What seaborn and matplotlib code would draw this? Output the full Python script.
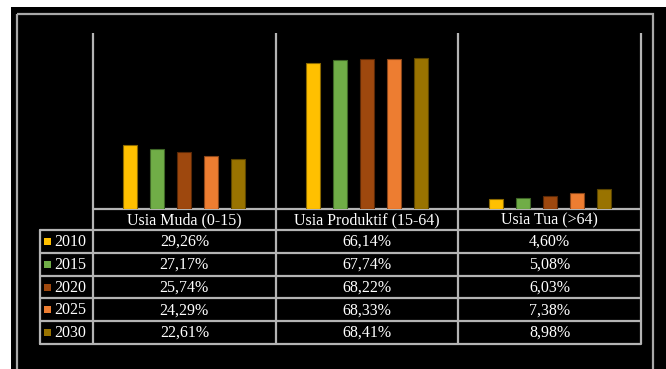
import matplotlib
matplotlib.use("Agg")
import matplotlib.pyplot as plt
import matplotlib.patches as mpatches
import seaborn as sns
import pandas as pd

categories = ["Usia Muda (0-15)", "Usia Produktif (15-64)", "Usia Tua (>64)"]
years = ["2010", "2015", "2020", "2025", "2030"]
v2010 = [29.26, 66.14, 4.60]
v2015 = [27.17, 67.74, 5.08]
v2020 = [25.74, 68.22, 6.03]
v2025 = [24.29, 68.33, 7.38]
v2030 = [22.61, 68.41, 8.98]
colors = ["#FFC000", "#70AD47", "#9E480E", "#ED7D31", "#997300"]
edge_colors = ["#8a6800", "#3e6526", "#5a2807", "#8a461a", "#5a4400"]

series = [v2010, v2015, v2020, v2025, v2030]
rows = []
for y, vals in zip(years, series):
    for c, v in zip(categories, vals):
        rows.append({"Kategori": c, "Tahun": y, "Nilai": v})
df = pd.DataFrame(rows)

sns.set_theme(style="white")
plt.rcParams["font.family"] = ["Liberation Serif", "DejaVu Serif"]

W, H = 666, 369
fig = plt.figure(figsize=(W / 100, H / 100), dpi=100)
fig.patch.set_facecolor("white")

# overlay axes in pixel coordinates (background, frame, table)
bg = fig.add_axes([0, 0, 1, 1])
bg.set_xlim(0, W)
bg.set_ylim(H, 0)
bg.axis("off")
bg.add_patch(mpatches.Rectangle((11, 7), W - 11, H - 7, facecolor="black", edgecolor="none", zorder=0))
bg.add_patch(mpatches.Rectangle((17, 14), 636, 400, facecolor="none", edgecolor="#a8a8a8", lw=1.6, zorder=1))

# bar axes
x_left, x_right, y_top, y_base = 93, 641, 33, 209
ax = fig.add_axes([x_left / W, (H - y_base) / H, (x_right - x_left) / W, (y_base - y_top) / H])
ax.patch.set_alpha(0)
sns.barplot(data=df, x="Kategori", y="Nilai", hue="Tahun", hue_order=years,
            palette=colors, saturation=1, width=0.74, gap=0.48, ax=ax, legend=False, zorder=3)
for i, cont in enumerate(ax.containers):
    for bar in cont:
        bar.set_edgecolor(edge_colors[i])
        bar.set_linewidth(0.8)
ax.set_xlim(-0.5, 2.5)
ax.set_ylim(0, 80)
ax.set_xticks([])
ax.set_yticks([])
ax.set_xlabel("")
ax.set_ylabel("")
for s in ax.spines.values():
    s.set_visible(False)

# table / separators (pixel coords)
line_c = "#b4b4b4"
col_edges = [x_left + (x_right - x_left) * k / len(categories) for k in range(len(categories) + 1)]
row_h = 22.8
header_top = y_base
header_bot = header_top + 21
row_tops = [header_bot + row_h * k for k in range(len(years) + 1)]
leg_left = 40
table_bot = row_tops[-1]

for xe in col_edges:
    bg.plot([xe, xe], [y_top, table_bot], color=line_c, lw=1.6, zorder=2, solid_capstyle="butt")
bg.plot([leg_left, leg_left], [header_bot, table_bot], color=line_c, lw=1.6, zorder=2)
bg.plot([x_left, x_right], [header_top, header_top], color=line_c, lw=1.6, zorder=2)
for yt in row_tops:
    bg.plot([leg_left, x_right], [yt, yt], color=line_c, lw=1.6, zorder=2)

fs = 11.5
for k, c in enumerate(categories):
    cx = (col_edges[k] + col_edges[k + 1]) / 2
    bg.text(cx, (header_top + header_bot) / 2 + 0.5, c, color="white", fontsize=fs,
            ha="center", va="center", zorder=4)

for r, (y, vals) in enumerate(zip(years, series)):
    cy = (row_tops[r] + row_tops[r + 1]) / 2
    bg.add_patch(mpatches.Rectangle((44, cy - 3.5), 7, 7, facecolor=colors[r],
                                    edgecolor="none", zorder=4))
    bg.text(54, cy + 0.5, y, color="white", fontsize=fs, ha="left", va="center", zorder=4)
    for k, v in enumerate(vals):
        cx = (col_edges[k] + col_edges[k + 1]) / 2
        txt = f"{v:.2f}%".replace(".", ",")
        bg.text(cx, cy + 0.5, txt, color="white", fontsize=fs, ha="center", va="center", zorder=4)

fig.savefig("out.png", dpi=100, facecolor=fig.get_facecolor())
